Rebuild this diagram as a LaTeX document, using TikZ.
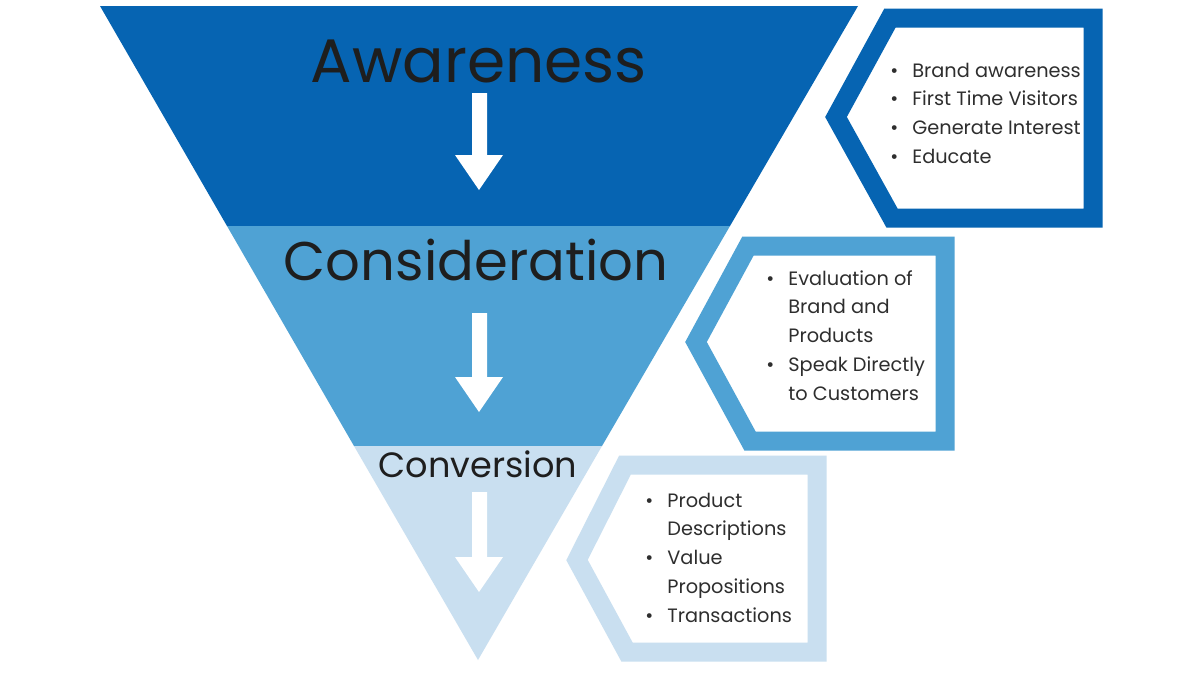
\documentclass[tikz,border=0pt]{standalone}
\usepackage{fontspec}
\setmainfont{Poppins}
\definecolor{awblue}{HTML}{0664B2}
\definecolor{coblue}{HTML}{4FA2D4}
\definecolor{cvblue}{HTML}{C9DFF0}
\definecolor{titlegray}{HTML}{1E1E1E}
\definecolor{textgray}{HTML}{2E2E2E}

\begin{document}
\begin{tikzpicture}
    [x=0.02cm, y=-0.02cm, line join=miter,
     sidebox/.style={line width=0.38cm, fill=white},
     title/.style={anchor=base, text=titlegray, inner sep=0pt},
     points/.style={anchor=base west, text=textgray, inner sep=0pt,
                    font=\fontsize{11}{16.4}\selectfont}]

    \useasboundingbox [fill=white] (0,0) rectangle (1200,674);

    % funnel bands:
    \fill [awblue] (100,6) -- (858,6) -- (730,226) -- (227,226) -- cycle;
    \fill [coblue] (227,226) -- (730,226) -- (602,446) -- (354,446) -- cycle;
    \fill [cvblue] (354,446) -- (602,446) -- (478,660) -- cycle;

    % flow arrows:
    \foreach \ytop/\yhead/\ytip in {93/155/190, 313/377/412, 492/557/592}
      \fill [white] (472,\ytop) -- (487,\ytop) -- (487,\yhead) -- (503,\yhead)
        -- (479,\ytip) -- (455,\yhead) -- (472,\yhead) -- cycle;

    % stage labels:
    \node (awareness) [title, font=\fontsize{35}{40}\selectfont] at (479,82) {Awareness};
    \node (consideration) [title, font=\fontsize{31}{34}\selectfont] at (476,280) {Consideration};
    \node (conversion) [title, font=\fontsize{20}{24}\selectfont] at (478,477) {Conversion};

    % side boxes:
    \draw [sidebox, draw=awblue] (890,18) -- (1093,18) -- (1093,218) -- (892,218) -- (836,117) -- cycle;
    \draw [sidebox, draw=coblue] (748,246) -- (945,246) -- (945,441) -- (750,441) -- (696,342) -- cycle;
    \draw [sidebox, draw=cvblue] (625,465) -- (817,465) -- (817,652) -- (627,652) -- (577,560) -- cycle;

    % box texts:
    \node (awpoints) [points] at (890,77) {%
      \begin{tabular}[t]{@{}l@{\hspace{8pt}}l@{}}
        • & Brand awareness \\
        • & First Time Visitors \\
        • & Generate Interest \\
        • & Educate
      \end{tabular}};
    \node (copoints) [points] at (766,285) {%
      \begin{tabular}[t]{@{}l@{\hspace{8pt}}l@{}}
        • & Evaluation of \\
          & Brand and \\
          & Products \\
        • & Speak Directly \\
          & to Customers
      \end{tabular}};
    \node (cvpoints) [points] at (645,507) {%
      \begin{tabular}[t]{@{}l@{\hspace{8pt}}l@{}}
        • & Product \\
          & Descriptions \\
        • & Value \\
          & Propositions \\
        • & Transactions
      \end{tabular}};

  \end{tikzpicture}
\end{document}
